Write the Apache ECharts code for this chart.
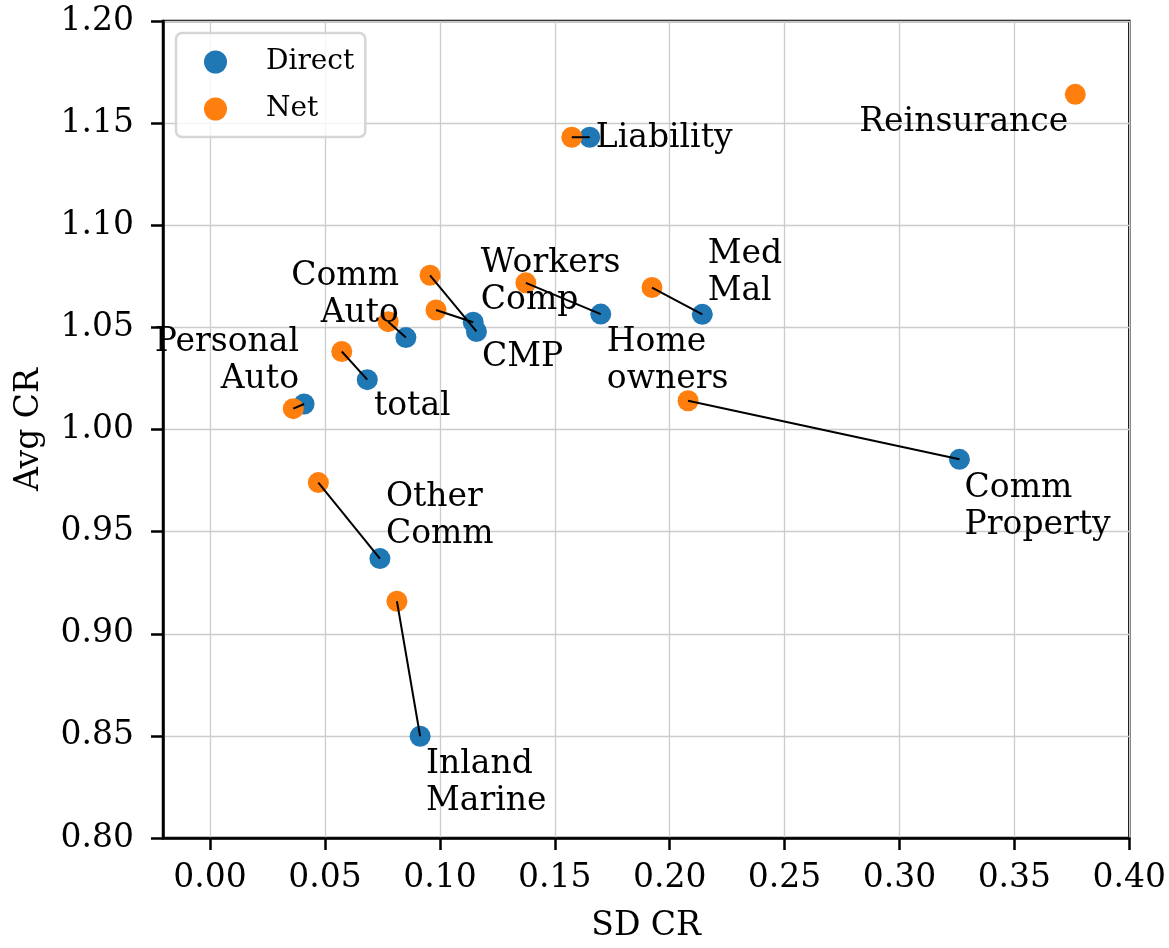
<!DOCTYPE html>
<html><head><meta charset="utf-8">
<script src="https://cdn.jsdelivr.net/npm/echarts@6/dist/echarts.min.js"></script>
<style>html,body{margin:0;padding:0;background:#fff}#chart{width:1169px;height:948px}</style>
</head><body><div id="chart"></div>
<script>
// ---- data ----
const categories = ['Liability','Reinsurance','Med Mal','Workers Comp','Home owners','Comm Auto','CMP','Personal Auto','total','Other Comm','Comm Property','Inland Marine'];
const directSD  = [0.1652, null, 0.2142, 0.1700, 0.1145, 0.0852, 0.1159, 0.0409, 0.0684, 0.0739, 0.3261, 0.0914];
const directAvg = [1.1431, null, 1.0564, 1.0565, 1.0525, 1.0450, 1.0480, 1.0125, 1.0244, 0.9368, 0.9854, 0.8498];
const netSD     = [0.1574, 0.3765, 0.1923, 0.1374, 0.0983, 0.0775, 0.0957, 0.0362, 0.0573, 0.0471, 0.2080, 0.0813];
const netAvg    = [1.1431, 1.1641, 1.0695, 1.0718, 1.0585, 1.0528, 1.0755, 1.0102, 1.0382, 0.9740, 1.0141, 0.9159];
const xTicks = [0.00, 0.05, 0.10, 0.15, 0.20, 0.25, 0.30, 0.35, 0.40];
const yTicks = [0.80, 0.85, 0.90, 0.95, 1.00, 1.05, 1.10, 1.15, 1.20];

// ---- label anchor placement (data units) ----
const labelAnchors = [
  [0.1676, 1.1423, 'right'],
  [0.3737, 1.1505, 'left'],
  [0.2163, 1.0766, 'right'],
  [0.1176, 1.0723, 'right'],
  [0.1724, 1.0335, 'right'],
  [0.0824, 1.0658, 'left'],
  [0.1181, 1.0352, 'right'],
  [0.0389, 1.0336, 'left'],
  [0.0711, 1.0113, 'right'],
  [0.0763, 0.9579, 'right'],
  [0.3281, 0.9623, 'right'],
  [0.0937, 0.8268, 'right']
];

const FONT = 'DejaVu Serif';
const directData = [], netData = [], pairData = [];
categories.forEach((c, i) => {
  if (directSD[i] != null) directData.push([directSD[i], directAvg[i]]);
  if (netSD[i] != null) netData.push([netSD[i], netAvg[i]]);
  if (directSD[i] != null && netSD[i] != null) pairData.push([netSD[i], netAvg[i], directSD[i], directAvg[i]]);
});
const labelData = categories.map((c, i) => ({
  name: c,
  value: [labelAnchors[i][0], labelAnchors[i][1]],
  label: { position: labelAnchors[i][2] }
}));

const chart = echarts.init(document.getElementById('chart'), null, {renderer: 'canvas'});
const axisText = {fontFamily: FONT, fontSize: 33, color: '#000'};
chart.setOption({
  animation: false,
  backgroundColor: '#fff',
  grid: {left: 163, right: 39, top: 21, bottom: 106, show: true, borderColor: '#000', borderWidth: 2.5, backgroundColor: 'transparent'},
  legend: {
    data: ['Direct', 'Net'],
    orient: 'vertical',
    left: 176, top: 33,
    padding: [15, 11, 14, 28],
    itemWidth: 23, itemHeight: 23, itemGap: 19,
    icon: 'circle',
    backgroundColor: 'rgba(255,255,255,0.8)',
    borderColor: '#d6d6d6', borderWidth: 2.5, borderRadius: 6,
    textStyle: {fontFamily: FONT, fontSize: 28, color: '#000', lineHeight: 23, padding: [0, 0, 0, 34]}
  },
  xAxis: {
    type: 'value', min: -0.0205, max: 0.40, splitNumber: 8,
    name: 'SD CR', nameLocation: 'middle', nameGap: 72, nameTextStyle: axisText,
    axisLine: {show: true, onZero: false, lineStyle: {color: '#000', width: 2.5}},
    axisTick: {show: true, length: 12, lineStyle: {color: '#000', width: 2.5}, customValues: xTicks},
    axisLabel: Object.assign({customValues: xTicks, margin: 24, formatter: v => v.toFixed(2)}, axisText),
    splitLine: {show: true, lineStyle: {color: '#cccccc', width: 1.3}}
  },
  yAxis: {
    type: 'value', min: 0.80, max: 1.20, interval: 0.05,
    name: 'Avg CR', nameLocation: 'middle', nameGap: 117, nameTextStyle: axisText,
    axisLine: {show: true, onZero: false, lineStyle: {color: '#000', width: 2.5}},
    axisTick: {show: true, length: 12, lineStyle: {color: '#000', width: 2.5}},
    axisLabel: Object.assign({margin: 29, formatter: v => v.toFixed(2)}, axisText),
    splitLine: {show: true, lineStyle: {color: '#cccccc', width: 1.3}}
  },
  series: [
    {name: 'Direct', type: 'scatter', data: directData, symbolSize: 21, itemStyle: {color: '#1f77b4', opacity: 1}, z: 2},
    {name: 'Net', type: 'scatter', data: netData, symbolSize: 21, itemStyle: {color: '#ff7f0e', opacity: 1}, z: 3},
    {
      name: 'pairs', type: 'custom', data: pairData, z: 4, silent: true,
      encode: {x: [0, 2], y: [1, 3]},
      renderItem: function (params, api) {
        const p1 = api.coord([api.value(0), api.value(1)]);
        const p2 = api.coord([api.value(2), api.value(3)]);
        return {type: 'line', shape: {x1: p1[0], y1: p1[1], x2: p2[0], y2: p2[1]}, style: {stroke: '#000', lineWidth: 2}};
      }
    },
    {
      name: 'labels', type: 'scatter', data: labelData, symbolSize: 1, z: 5, silent: true,
      itemStyle: {color: 'rgba(0,0,0,0)'},
      label: {
        show: true, distance: 0, fontFamily: FONT, fontSize: 33, color: '#000', opacity: 1,
        textBorderWidth: 0, lineHeight: 37,
        formatter: p => p.name.replace(' ', '\n')
      },
      emphasis: {disabled: true}
    }
  ]
});
</script></body></html>
